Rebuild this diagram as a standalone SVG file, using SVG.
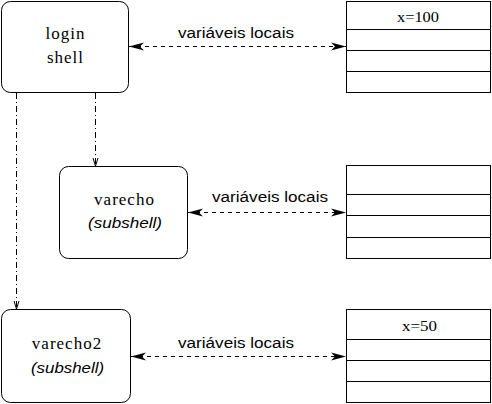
<svg xmlns="http://www.w3.org/2000/svg" width="492" height="404" viewBox="0 0 492 404">
<style>
.box{fill:#fff;stroke:#000;stroke-width:1}
.tbl{fill:#fff;stroke:#000;stroke-width:1}
.row{stroke:#000;stroke-width:1}
.dash{fill:none;stroke:#000;stroke-width:1;stroke-dasharray:4 4}
.dd{fill:none;stroke:#000;stroke-width:1;stroke-dasharray:6 3 1 3}
.serif{font-family:"Liberation Serif","Times New Roman",serif;font-size:17px;letter-spacing:1px;fill:#000;text-anchor:middle}
.val{font-family:"Liberation Serif","Times New Roman",serif;font-size:15px;fill:#000}
.sans{font-family:"Liberation Sans",Arial,sans-serif;font-size:14px;fill:#000}
.it{font-family:"Liberation Sans",Arial,sans-serif;font-size:15px;font-style:italic;fill:#000}
</style>
<defs>
<marker id="fa" viewBox="-17 -5 18 10" refX="0" refY="0" markerWidth="18" markerHeight="10" markerUnits="userSpaceOnUse" orient="auto-start-reverse">
<path d="M0,0 L-15,-4 L-11,0 L-15,4 Z" fill="#000"/>
</marker>
<marker id="ov" viewBox="-9 -4 10 8" refX="0" refY="0" markerWidth="10" markerHeight="8" markerUnits="userSpaceOnUse" orient="auto">
<path d="M-8,-2.5 L0,0 L-8,2.5" fill="none" stroke="#000" stroke-width="1"/>
</marker>
</defs>
<rect width="492" height="404" fill="#fff"/>
<g id="connectors">
<line class="dd" x1="16.5" y1="93" x2="16.5" y2="309" marker-end="url(#ov)"/>
<line class="dd" x1="95.5" y1="93" x2="95.5" y2="166" marker-end="url(#ov)"/>
<line class="dash" x1="129" y1="46.5" x2="346" y2="46.5" marker-start="url(#fa)" marker-end="url(#fa)"/>
<line class="dash" x1="188" y1="212.5" x2="346" y2="212.5" marker-start="url(#fa)" marker-end="url(#fa)"/>
<line class="dash" x1="131" y1="356.5" x2="346" y2="356.5" marker-start="url(#fa)" marker-end="url(#fa)"/>
<text class="sans" x="178" y="38" textLength="116" lengthAdjust="spacingAndGlyphs">variáveis locais</text>
<text class="sans" x="212" y="202" textLength="116" lengthAdjust="spacingAndGlyphs">variáveis locais</text>
<text class="sans" x="178" y="348" textLength="116" lengthAdjust="spacingAndGlyphs">variáveis locais</text>
</g>
<g id="login">
<rect class="box" x="1.5" y="1.5" width="127" height="91" rx="9"/>
<text class="serif" x="65.5" y="39">login</text>
<text class="serif" x="65.5" y="63">shell</text>
</g>
<g id="varecho">
<rect class="box" x="59.5" y="166.5" width="128" height="92" rx="9"/>
<text class="serif" x="124.5" y="205">varecho</text>
<text class="it" x="88" y="228" textLength="74" lengthAdjust="spacingAndGlyphs">(subshell)</text>
</g>
<g id="varecho2">
<rect class="box" x="1.5" y="309.5" width="129" height="93" rx="9"/>
<text class="serif" x="67" y="349">varecho2</text>
<text class="it" x="31" y="373" textLength="73" lengthAdjust="spacingAndGlyphs">(subshell)</text>
</g>
<g id="table1">
<rect class="tbl" x="346.5" y="1.5" width="144" height="91"/>
<line class="row" x1="346.5" y1="29.5" x2="490.5" y2="29.5"/>
<line class="row" x1="346.5" y1="50.5" x2="490.5" y2="50.5"/>
<line class="row" x1="346.5" y1="71.5" x2="490.5" y2="71.5"/>
<text class="val" x="397" y="22" textLength="42" lengthAdjust="spacingAndGlyphs">x=100</text>
</g>
<g id="table2">
<rect class="tbl" x="346.5" y="165.5" width="144" height="93"/>
<line class="row" x1="346.5" y1="194.5" x2="490.5" y2="194.5"/>
<line class="row" x1="346.5" y1="215.5" x2="490.5" y2="215.5"/>
<line class="row" x1="346.5" y1="237.5" x2="490.5" y2="237.5"/>
</g>
<g id="table3">
<rect class="tbl" x="346.5" y="309.5" width="144" height="93"/>
<line class="row" x1="346.5" y1="339.5" x2="490.5" y2="339.5"/>
<line class="row" x1="346.5" y1="360.5" x2="490.5" y2="360.5"/>
<line class="row" x1="346.5" y1="381.5" x2="490.5" y2="381.5"/>
<text class="val" x="402" y="331" textLength="35" lengthAdjust="spacingAndGlyphs">x=50</text>
</g>
</svg>
